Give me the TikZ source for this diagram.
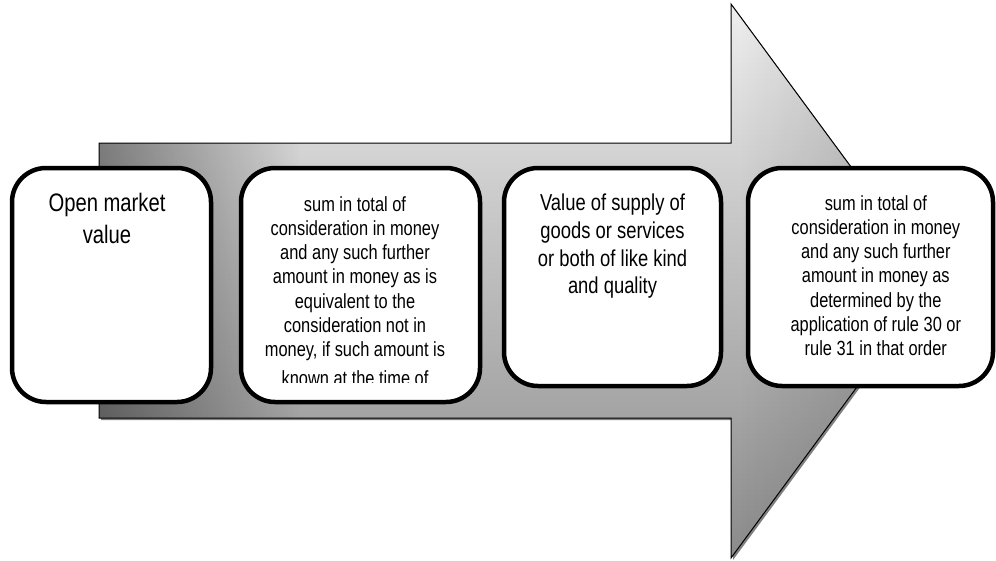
\documentclass[tikz,border=0pt]{standalone}
\usepackage{fontspec}
\setmainfont{Liberation Sans}
\newfontfamily\boxfont{Liberation Sans}[FakeStretch=0.8]
\usetikzlibrary{fadings}
\tikzfading[name=fadeleft, left color=transparent!0, right color=transparent!100]
\tikzfading[name=faderight, left color=transparent!100, right color=transparent!0]
\definecolor{arrtop}{HTML}{EEEEEE}
\definecolor{arrbot}{HTML}{8A8A8A}
\begin{document}
\begin{tikzpicture}[x=1pt,y=-1pt,
  box/.style={draw=black, line width=4.5pt, fill=white, rounded corners=34pt, inner sep=0pt},
  boxtext/.style={inner sep=0pt, anchor=base},
]
\useasboundingbox (0,0) rectangle (996,560);
\def\arrowpath{(99,143) -- (731,143) -- (731,4) -- (935,281) -- (731,558) -- (731,418) -- (99,418) -- cycle}
% shadow and body of the big arrow
\fill[black!50, shift={(2,2)}] \arrowpath;
\shade[top color=arrtop, bottom color=arrbot] \arrowpath;
\begin{scope}
  \clip \arrowpath;
  \fill[black, fill opacity=0.42, path fading=fadeleft] (99,143) rectangle (300,418);
  \fill[black, fill opacity=0.2, path fading=faderight] (740,0) rectangle (935,560);
\end{scope}
\draw[line width=1pt, line join=miter] \arrowpath;
% boxes
\node[box, minimum width=199pt, minimum height=234pt] (b1) at (111.5,285) {};
\node[box, minimum width=239pt, minimum height=234pt] (b2) at (360.5,285) {};
\node[box, minimum width=217pt, minimum height=218pt] (b3) at (612.5,277) {};
\node[box, minimum width=245pt, minimum height=218pt] (b4) at (870.5,277) {};
% texts
\node[boxtext, font=\boxfont\fontsize{25.3}{31.6}\selectfont] (t1) at (107,211.7)
  {\begin{tabular}[t]{@{}c@{}}Open market\\value\end{tabular}};
\begin{scope}
  \clip (241,170) rectangle (480,382.7);
  \node[boxtext, font=\boxfont\fontsize{20.5}{24.3}\selectfont] (t2) at (355,211)
  {\begin{tabular}[t]{@{}c@{}}sum in total of\\consideration in money\\and any such further\\amount in money as is\\equivalent to the\\consideration not in\\money, if such amount is\\[4.5pt]known at the time of\end{tabular}};
\end{scope}
\node[boxtext, font=\boxfont\fontsize{23}{27.7}\selectfont] (t3) at (612.5,210.7)
  {\begin{tabular}[t]{@{}c@{}}Value of supply of\\goods or services\\or both of like kind\\and quality\end{tabular}};
\node[boxtext, font=\boxfont\fontsize{20.5}{24.3}\selectfont] (t4) at (875.8,210)
  {\begin{tabular}[t]{@{}c@{}}sum in total of\\consideration in money\\and any such further\\amount in money as\\determined by the\\application of rule 30 or\\rule 31 in that order\end{tabular}};
\end{tikzpicture}
\end{document}
